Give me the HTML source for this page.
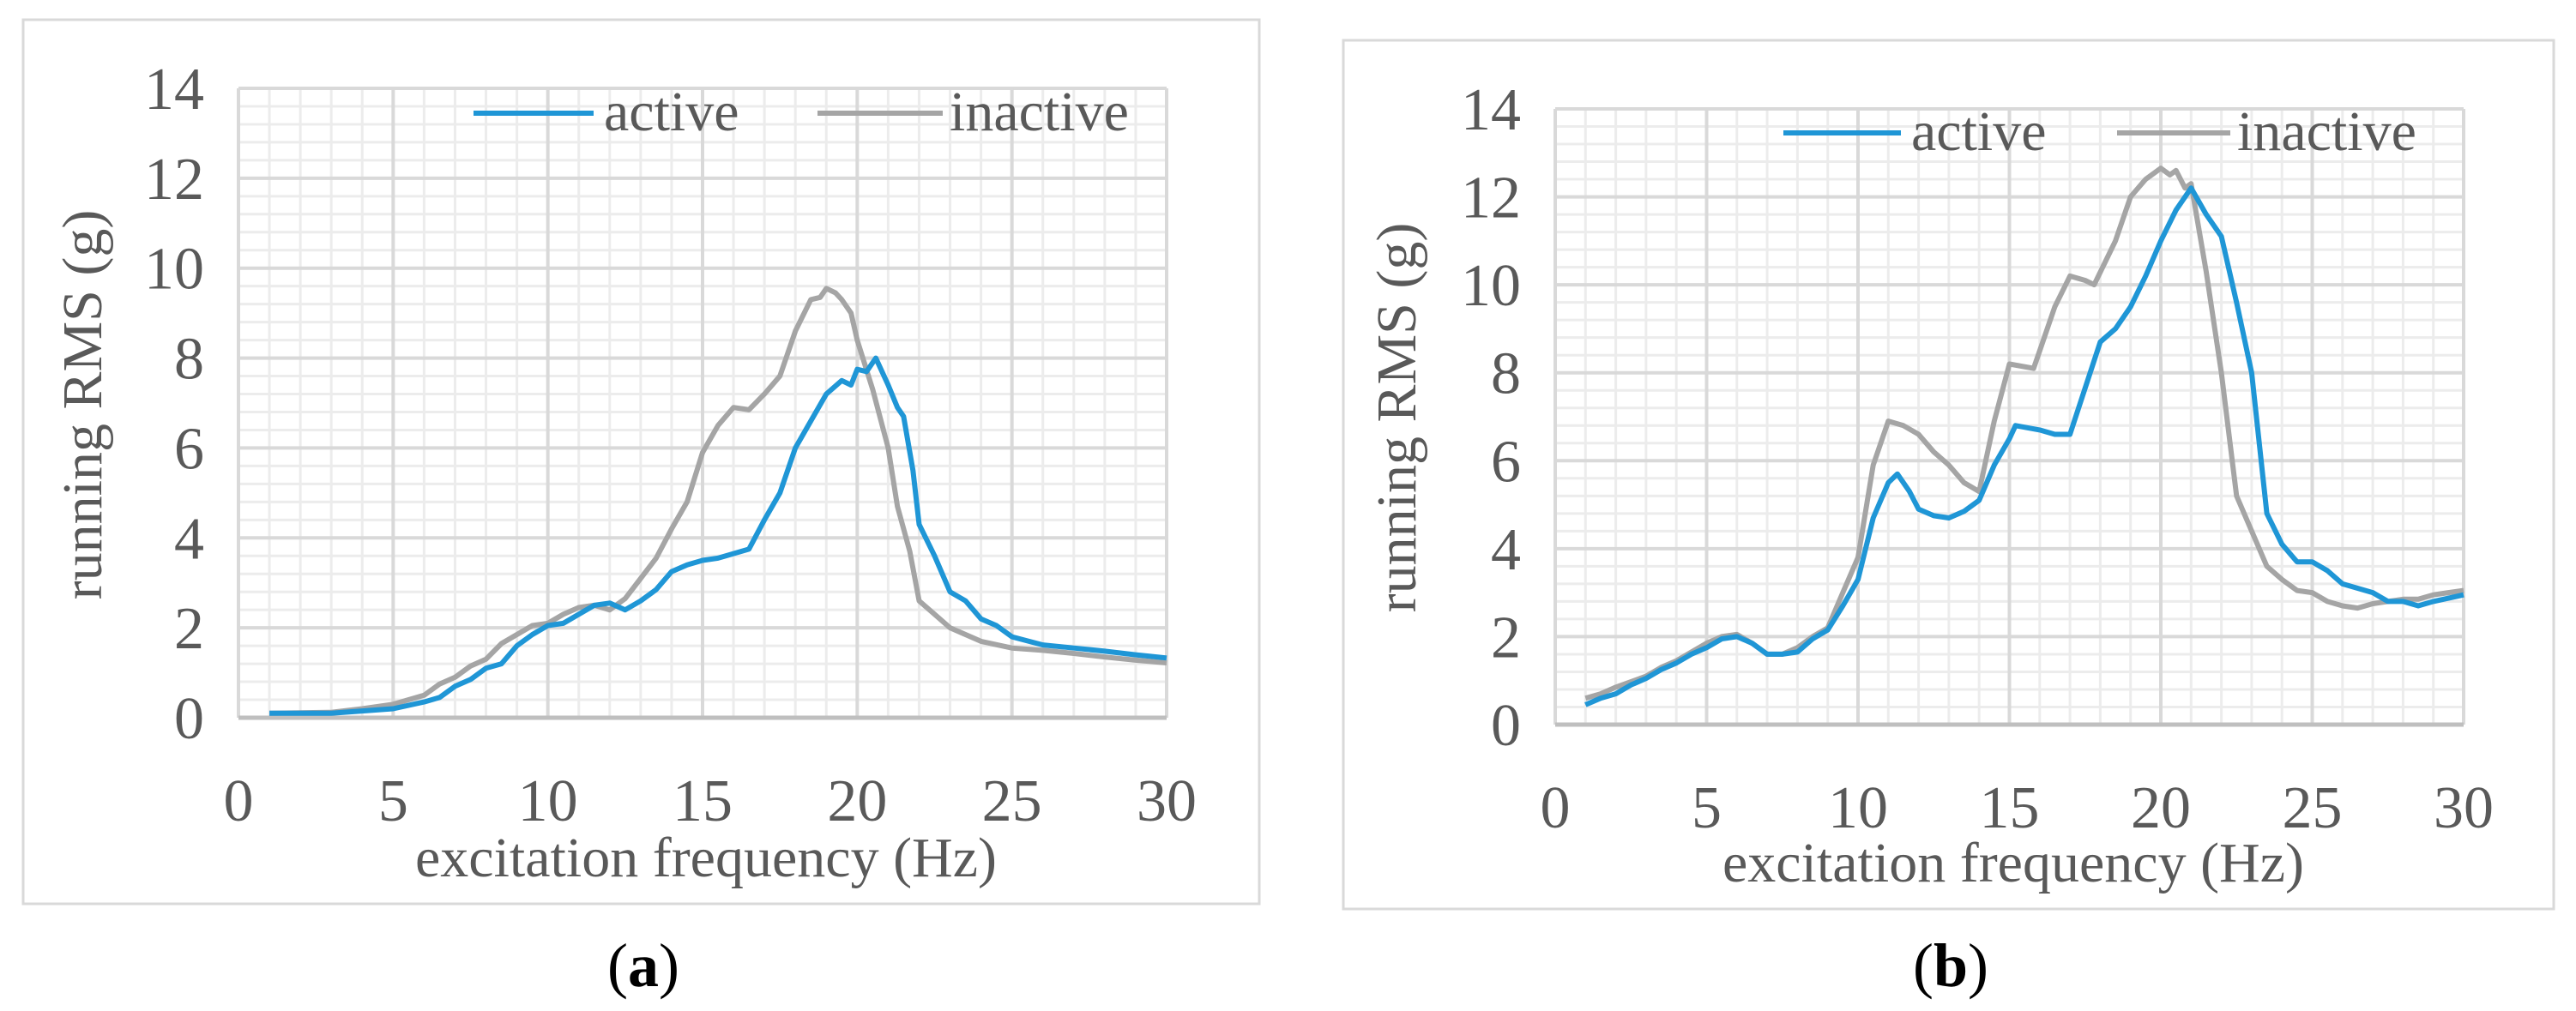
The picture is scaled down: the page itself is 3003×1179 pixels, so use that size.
<!DOCTYPE html>
<html><head><meta charset="utf-8"><style>
html,body{margin:0;padding:0;background:#fff;}
svg{display:block;}
text{font-family:"Liberation Serif",serif;fill:#595959;}
</style></head><body>
<svg id="s" width="3003" height="1179" viewBox="0 0 3003 1179" xmlns="http://www.w3.org/2000/svg"></svg>
<script>
const xTicks=[0,5,10,15,20,25,30];
const yTicks=[0,2,4,6,8,10,12,14];
const aActiveX=[1,3,4,5,6,6.5,7,7.5,8,8.5,9,9.5,10,10.5,11,11.5,12,12.5,13,13.5,14,14.5,15,15.5,16,16.5,17,17.5,18,18.5,19,19.5,19.8,20,20.3,20.6,21,21.3,21.5,21.8,22,22.5,23,23.5,24,24.5,25,26,27,28,29,30];
const aActiveY=[0.1,0.1,0.15,0.2,0.35,0.45,0.7,0.85,1.1,1.2,1.6,1.85,2.05,2.1,2.3,2.5,2.55,2.4,2.6,2.85,3.25,3.4,3.5,3.55,3.65,3.75,4.4,5.0,6.0,6.6,7.2,7.5,7.4,7.75,7.7,8.0,7.4,6.9,6.7,5.5,4.3,3.6,2.8,2.6,2.2,2.05,1.8,1.62,1.55,1.48,1.4,1.33];
const aInactX=[1,3,4,5,6,6.5,7,7.5,8,8.5,9,9.5,10,10.5,11,11.5,12,12.5,13,13.5,14,14.5,15,15.5,16,16.5,17,17.5,18,18.5,18.8,19,19.3,19.5,19.8,20,20.5,21,21.3,21.7,22,22.5,23,24,25,26,27,28,29,30];
const aInactY=[0.1,0.12,0.2,0.3,0.5,0.75,0.9,1.15,1.3,1.65,1.85,2.05,2.1,2.3,2.45,2.5,2.4,2.65,3.1,3.55,4.2,4.8,5.9,6.5,6.9,6.85,7.2,7.6,8.6,9.3,9.35,9.55,9.45,9.3,9.0,8.4,7.3,6.0,4.7,3.7,2.6,2.3,2.0,1.7,1.55,1.5,1.43,1.35,1.28,1.22];
const bActiveX=[1,1.5,2,2.5,3,3.5,4,4.5,5,5.5,6,6.5,7,7.5,8,8.5,9,9.5,10,10.5,11,11.3,11.7,12,12.5,13,13.5,14,14.5,15,15.2,16,16.5,17,18,18.5,19,19.5,20,20.5,21,21.5,22,22.5,23,23.5,24,24.5,25,25.5,26,27,27.5,28,28.5,29,30];
const bActiveY=[0.45,0.6,0.7,0.9,1.05,1.25,1.4,1.6,1.75,1.95,2.0,1.85,1.6,1.6,1.65,1.95,2.15,2.7,3.3,4.7,5.5,5.7,5.3,4.9,4.75,4.7,4.85,5.1,5.9,6.5,6.8,6.7,6.6,6.6,8.7,9.0,9.5,10.2,11.0,11.7,12.2,11.6,11.1,9.6,8.0,4.8,4.1,3.7,3.7,3.5,3.2,3.0,2.8,2.8,2.7,2.8,2.95];
const bInactX=[1,1.5,2,3,3.5,4,5,5.5,6,6.5,7,7.5,8,8.5,9,9.5,10,10.5,11,11.5,12,12.5,13,13.5,14,14.5,15,15.8,16,16.5,17,17.5,17.8,18.5,19,19.5,20,20.3,20.5,20.8,21,21.5,22,22.5,23,23.5,24,24.5,25,25.5,26,26.5,27,28,28.5,29,29.5,30];
const bInactY=[0.6,0.7,0.85,1.1,1.3,1.45,1.85,2.0,2.05,1.85,1.6,1.6,1.75,2.0,2.2,3.0,3.8,5.9,6.9,6.8,6.6,6.2,5.9,5.5,5.3,6.9,8.2,8.1,8.5,9.5,10.2,10.1,10.0,11.0,12.0,12.4,12.65,12.5,12.6,12.2,12.3,10.3,8.0,5.2,4.4,3.6,3.3,3.05,3.0,2.8,2.7,2.65,2.75,2.85,2.85,2.95,3.0,3.05];

const NS="http://www.w3.org/2000/svg";
const svg=document.getElementById('s');
function mk(tag,attrs,parent){const e=document.createElementNS(NS,tag);for(const k in attrs)e.setAttribute(k,attrs[k]);(parent||svg).appendChild(e);return e;}

function chart(P){
  const g=mk('g',{});
  
  
  const fx=v=>P.x0+(v-0)/30*(P.x1-P.x0);
  const fy=v=>P.y0-(v/14)*(P.y0-P.y1);
  const fr=mk('rect',{x:P.fx,y:P.fy,width:P.fw,height:P.fh,fill:'#fff',stroke:'#d9d9d9','stroke-width':3},g);
  
  
  for(let v=0.4;v<14;v+=0.4){ if(Math.abs(v/2-Math.round(v/2))<0.01)continue;
    const l=mk('line',{x1:P.x0,x2:P.x1,y1:fy(v),y2:fy(v),stroke:'#ececec','stroke-width':3},g);
    
    }
  for(let v=1;v<30;v++){ if(v%5==0)continue;
    const l=mk('line',{x1:fx(v),x2:fx(v),y1:P.y0,y2:P.y1,stroke:'#ececec','stroke-width':3},g);
    
    }
  yTicks.forEach(v=>{
    const l=mk('line',{x1:P.x0,x2:P.x1,y1:fy(v),y2:fy(v),stroke:'#d9d9d9','stroke-width':4},g);
    
    
    const t=mk('text',{x:P.x0-40,y:fy(v)+24,'text-anchor':'end','font-size':70},g);
    t.textContent=v;
    
    
  });
  xTicks.forEach(v=>{
    const l=mk('line',{x1:fx(v),x2:fx(v),y1:P.y0,y2:P.y1,stroke:'#d9d9d9','stroke-width':4},g);
    
    
    const t=mk('text',{x:fx(v),y:P.y0+120,'text-anchor':'middle','font-size':70},g);
    t.textContent=v;
    
    
  });
  const ax=mk('line',{x1:P.x0,x2:P.x1,y1:P.y0,y2:P.y0,stroke:'#bfbfbf','stroke-width':5},g);
  
  
  const series=[[P.ix,P.iy,'#a5a5a5','inactive-line'],[P.ax,P.ay,'#1f96d6','active-line']];
  series.forEach(s=>{
    const pts=s[0].map((x,i)=>fx(x).toFixed(1)+','+fy(s[1][i]).toFixed(1)).join(' ');
    const pl=mk('polyline',{points:pts,fill:'none',stroke:s[2],'stroke-width':6,'stroke-linejoin':'round'},g);
    
    
  });
  const lg=mk('g',{},g);
  
  
  const l1=mk('line',{x1:P.lg[0],x2:P.lg[1],y1:P.ly,y2:P.ly,stroke:'#1f96d6','stroke-width':6},lg);
  
  
  const t1=mk('text',{x:P.lg[1]+12,y:P.ly+20,'font-size':66},lg);t1.textContent='active';
  
  
  const l2=mk('line',{x1:P.lg[2],x2:P.lg[3],y1:P.ly,y2:P.ly,stroke:'#a5a5a5','stroke-width':6},lg);
  
  
  const t2=mk('text',{x:P.lg[3]+8,y:P.ly+20,'font-size':66},lg);t2.textContent='inactive';
  
  
  const yt=mk('text',{x:0,y:0,'text-anchor':'middle','font-size':66,transform:`translate(${P.ytx},${P.yty}) rotate(-90)`},g);
  yt.textContent='running RMS (g)';
  
  
  const xt=mk('text',{x:P.xtx,y:P.xty,'text-anchor':'middle','font-size':66},g);
  xt.textContent='excitation frequency (Hz)';
  
  
  const cap=mk('text',{x:P.cx,y:1150,'text-anchor':'middle','font-size':72,style:'fill:#000'},svg);
  cap.innerHTML='(<tspan font-weight="bold">'+P.cap+'</tspan>)';
  
  
}
chart({id:'chart-a',x0:278,x1:1360,y0:837,y1:103,fx:27,fy:23,fw:1441,fh:1031,
  ax:aActiveX,ay:aActiveY,ix:aInactX,iy:aInactY,lg:[552,692,953,1099],ly:132,
  ytx:118,yty:472,xtx:823,xty:1022,cx:750,cap:'a'});
chart({id:'chart-b',x0:1813,x1:2872,y0:845,y1:127,fx:1566,fy:47,fw:1411,fh:1013,
  ax:bActiveX,ay:bActiveY,ix:bInactX,iy:bInactY,lg:[2079,2216,2468,2600],ly:155,
  ytx:1650,yty:487,xtx:2347,xty:1028,cx:2274,cap:'b'});
</script>
</body></html>
